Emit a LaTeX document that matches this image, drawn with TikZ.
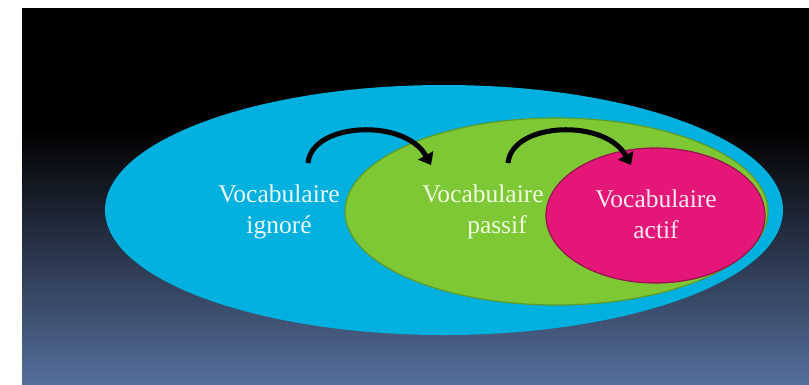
\documentclass[tikz,border=0pt]{standalone}
\usepackage{fontspec}
\setmainfont{Liberation Serif}
\usetikzlibrary{arrows.meta}
\definecolor{bgbot}{RGB}{85,110,155}
\definecolor{cyanfill}{RGB}{0,176,222}
\definecolor{greenfill}{RGB}{125,200,52}
\definecolor{greenline}{RGB}{95,155,40}
\definecolor{pinkfill}{RGB}{228,22,120}
\definecolor{pinkline}{RGB}{150,20,75}
\tikzset{
  label text/.style={inner sep=0pt, align=center, font=\fontsize{25.5}{31}\selectfont},
  bend arrow/.style={line width=5pt, black, -{Triangle[length=11pt,width=17pt]}}
}
\begin{document}
\begin{tikzpicture}[x=1pt,y=-1pt]
\useasboundingbox (0,0) rectangle (809,384);
\fill[white] (0,0) rectangle (809,384);
\fill[black] (22,8) rectangle (809,131);
\shade[top color=black, bottom color=bgbot] (22,130) rectangle (809,384);
% ellipses
\fill[cyanfill] (444,210) ellipse [x radius=339pt, y radius=125pt];
\filldraw[fill=greenfill, draw=greenline, line width=1.2pt] (556.5,211.5) ellipse [x radius=211.5pt, y radius=93.5pt];
\filldraw[fill=pinkfill, draw=pinkline, line width=1.2pt] (655.5,215.5) ellipse [x radius=109.5pt, y radius=67.5pt];
% labels
\node[label text, text={rgb,255:red,235;green,250;blue,255}] (ignore) at (279,212) {Vocabulaire\\ignoré};
\node[label text, text={rgb,255:red,240;green,255;blue,225}] (passif) at (483,212) {Vocabulaire\\\hspace*{28pt}passif};
\node[label text, text={rgb,255:red,255;green,232;blue,242}] (actif) at (656,214) {Vocabulaire\\actif};
% arrows
\coordinate (a1s) at (308,163);
\coordinate (a1e) at (431,165);
\coordinate (a2s) at (508,163);
\coordinate (a2e) at (631,165);
\draw[bend arrow] (a1s) .. controls (312,122) and (405,118) .. (a1e);
\draw[bend arrow] (a2s) .. controls (512,122) and (605,118) .. (a2e);
\end{tikzpicture}
\end{document}
